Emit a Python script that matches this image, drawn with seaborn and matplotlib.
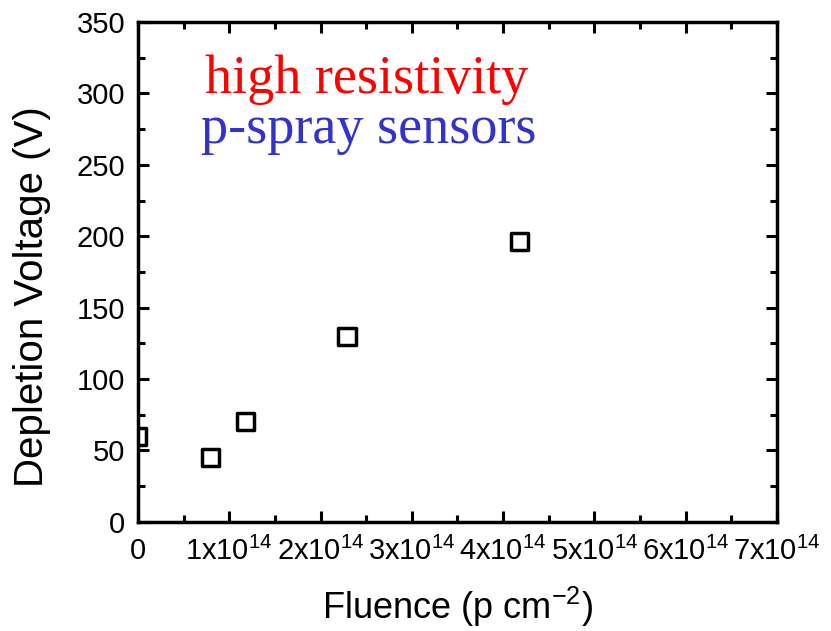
import matplotlib
matplotlib.use("Agg")
import matplotlib.pyplot as plt
from matplotlib.ticker import MultipleLocator, FixedLocator, FixedFormatter
import seaborn as sns
import pandas as pd

# Depletion voltage vs. proton fluence
fluence = [0.0, 0.79e14, 1.18e14, 2.29e14, 4.18e14]
voltage = [60, 45, 70, 130, 196]

x_ticks = [0, 1e14, 2e14, 3e14, 4e14, 5e14, 6e14, 7e14]
x_tick_labels = ["0", "1x10$^{14}$", "2x10$^{14}$", "3x10$^{14}$", "4x10$^{14}$",
                 "5x10$^{14}$", "6x10$^{14}$", "7x10$^{14}$"]

df = pd.DataFrame({"fluence": fluence, "voltage": voltage})

sns.set_style("ticks")
plt.rcParams["font.family"] = ["Liberation Sans", "DejaVu Sans"]
plt.rcParams["mathtext.fontset"] = "custom"
plt.rcParams["mathtext.rm"] = "Liberation Sans"
plt.rcParams["mathtext.default"] = "regular"
plt.rcParams["text.color"] = "black"
plt.rcParams["axes.labelcolor"] = "black"

fig = plt.figure(figsize=(8.31, 6.31), dpi=100)
ax = fig.add_axes([0.166, 0.173, 0.769, 0.792])

sns.scatterplot(data=df, x="fluence", y="voltage", ax=ax, marker="s",
                s=150, facecolor="none", edgecolor="black", linewidth=2.5,
                legend=False, zorder=3)

ax.set_xlim(0, 7e14)
ax.set_ylim(0, 350)
ax.xaxis.set_major_locator(FixedLocator(x_ticks))
ax.xaxis.set_major_formatter(FixedFormatter(x_tick_labels))
ax.xaxis.set_minor_locator(MultipleLocator(0.5e14))
ax.yaxis.set_major_locator(MultipleLocator(50))
ax.yaxis.set_minor_locator(MultipleLocator(25))

for side in ["top", "right", "bottom", "left"]:
    ax.spines[side].set_visible(True)
    ax.spines[side].set_linewidth(2.5)
    ax.spines[side].set_color("black")

ax.tick_params(which="both", direction="in", top=True, right=True,
               width=2.2, colors="black", labelsize=21)
ax.tick_params(axis="x", which="major", length=8, pad=11)
ax.tick_params(axis="y", which="major", length=8, pad=9)
ax.tick_params(which="minor", length=5)

ax.set_xlabel("Fluence (p cm$^{-2}$)", fontsize=26)
ax.set_ylabel("Depletion Voltage (V)", fontsize=29)
ax.xaxis.set_label_coords(0.5, -0.125)
ax.yaxis.set_label_coords(-0.136, 0.45)

ax.text(0.358, 0.884, "high resistivity", transform=ax.transAxes,
        ha="center", va="center", color="#ff0000", fontsize=39,
        family=["Liberation Serif", "DejaVu Serif"])
ax.text(0.361, 0.784, "p-spray sensors", transform=ax.transAxes,
        ha="center", va="center", color="#3333cc", fontsize=39,
        family=["Liberation Serif", "DejaVu Serif"])

fig.savefig("out.png", dpi=100, facecolor="white")
